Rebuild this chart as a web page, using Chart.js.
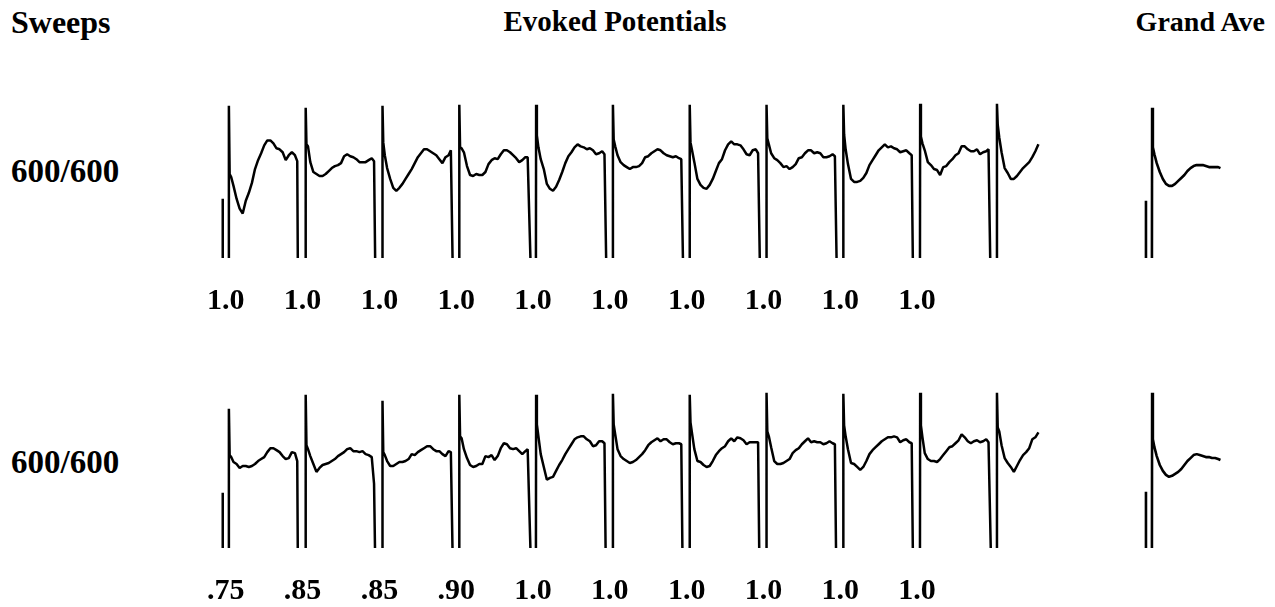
<!DOCTYPE html>
<html>
<head>
<meta charset="utf-8">
<title>Evoked Potentials</title>
<script src="https://cdn.jsdelivr.net/npm/chart.js@4.4.1/dist/chart.umd.min.js"></script>
<style>
  body { margin: 0; background: #fff; width: 1275px; height: 607px; overflow: hidden; position: relative;
         font-family: 'Liberation Serif', 'Times New Roman', serif; font-weight: bold; color: #000; }
  .lbl { position: absolute; line-height: 1; white-space: nowrap; }
  canvas { position: absolute; left: 0; }
</style>
</head>
<body>
<div class="lbl" style="left:11px;top:6px;font-size:32px">Sweeps</div>
<div class="lbl" style="left:615px;top:7px;font-size:29px;transform:translateX(-50%)">Evoked Potentials</div>
<div class="lbl" style="right:10px;top:8px;font-size:28px">Grand Ave</div>
<div class="lbl" style="left:11px;top:155px;font-size:33px">600/600</div>
<div class="lbl" style="left:11px;top:446px;font-size:33px">600/600</div>

<canvas id="rowTop" width="1275" height="254" style="top:90px"></canvas>
<canvas id="rowBottom" width="1275" height="254" style="top:380px"></canvas>

<script>
// sample times inside one epoch (ms after the stimulus)
const epochMs = [1, 3, 6, 10, 14, 18, 22, 26, 30, 34, 38, 42, 46, 50, 54, 58, 62, 66, 70, 74, 78, 82, 86, 89];
const EPOCH = 100;      // one sweep block on the time axis
const PRE_MS = -8;      // pre-stimulus line
const GRAND_AT = 1202;  // where the grand average is placed
const FLOOR = -120;     // below the visible range, so the baseline is cut off

// upper row
const topSweeps = [
  [5, 2, -7, -20, -30, -35, -22, -14, -4, 10, 19, 26, 34, 39, 39, 36, 31, 30, 27, 19, 24, 27, 24, 18],
  [35, 33, 17, 7, 5, 3, 3, 5, 8, 11, 13, 14, 16, 23, 25, 23, 22, 20, 17, 17, 17, 19, 21, 18],
  [37, 24, 11, 0, -9, -12, -9, -5, 0, 5, 10, 16, 22, 26, 30, 30, 28, 26, 24, 20, 16, 22, 24, 29],
  [32, 31, 27, 13, 4, 3, 5, 4, 4, 7, 15, 19, 21, 20, 25, 29, 29, 27, 24, 21, 17, 19, 22, 22],
  [44, 32, 20, 10, -5, -10, -12, -8, -1, 7, 16, 23, 27, 32, 35, 33, 32, 30, 31, 29, 25, 26, 28, 25],
  [40, 33, 24, 17, 14, 12, 10, 12, 12, 13, 16, 22, 23, 26, 28, 30, 29, 26, 24, 23, 22, 23, 21, 20],
  [37, 29, 17, 0, -6, -9, -10, -6, 0, 8, 16, 20, 29, 35, 38, 35, 35, 34, 30, 25, 24, 29, 30, 26],
  [41, 35, 26, 21, 19, 16, 12, 13, 10, 12, 15, 21, 22, 26, 29, 29, 26, 27, 26, 22, 22, 23, 25, 23],
  [45, 30, 15, 0, -3, -3, -2, 1, 6, 14, 19, 24, 29, 32, 35, 32, 33, 31, 30, 27, 28, 29, 26, 24],
  [43, 36, 29, 17, 14, 10, 9, 4, 12, 13, 17, 20, 24, 26, 33, 33, 30, 28, 28, 30, 25, 27, 28, 30],
  [55, 42, 27, 11, 6, 0, 0, 3, 7, 11, 14, 17, 22, 28, 35]
];
const topPeaks = [74, 72, 74, 75, 75, 75, 75, 75, 75, 76, 76];
const topDrops = [90, 91, 92, 94, 92, 92, 92, 92, 91, 92, null];
const topPre = -20;
const topLabels = ['1.0', '1.0', '1.0', '1.0', '1.0', '1.0', '1.0', '1.0', '1.0', '1.0'];
const grandTop = [32, 25, 16, 7, 0, -5, -7, -7, -5, -2, 1, 4, 8, 11, 13, 14, 14, 14, 13, 12, 12, 12, 12, 11];
const grandTopPeak = 72;
const grandTopPre = -22;

// lower row
const bottomSweeps = [
  [14, 12, 7, 5, 1, 3, 3, 2, 3, 5, 8, 10, 12, 17, 21, 21, 19, 17, 13, 10, 11, 17, 16, 8],
  [24, 20, 13, 5, -3, 1, 4, 5, 6, 8, 10, 13, 15, 17, 20, 21, 18, 18, 17, 18, 15, 14, 12, -15],
  [17, 14, 8, 3, 3, 5, 7, 7, 8, 10, 15, 14, 17, 19, 21, 23, 23, 20, 18, 18, 15, 13, 18, 17],
  [33, 31, 20, 11, 4, 2, 3, 5, 5, 13, 12, 14, 9, 13, 21, 26, 25, 21, 20, 21, 18, 15, 18, 20],
  [45, 33, 15, 2, -11, -9, -8, -2, 4, 9, 15, 20, 25, 30, 32, 33, 33, 30, 28, 23, 24, 28, 28, 26],
  [45, 35, 20, 13, 10, 8, 6, 7, 9, 12, 15, 19, 24, 27, 29, 31, 28, 30, 30, 27, 25, 26, 26, 25],
  [47, 36, 20, 8, 7, 4, 2, 3, 8, 14, 18, 21, 23, 28, 31, 28, 32, 31, 29, 25, 27, 27, 27, 27],
  [38, 33, 22, 8, 5, 5, 6, 8, 10, 16, 19, 21, 25, 28, 31, 27, 28, 27, 27, 25, 26, 28, 26, 25],
  [44, 33, 20, 6, 5, 2, -1, 2, 8, 15, 19, 22, 25, 28, 30, 32, 32, 33, 32, 27, 29, 30, 27, 26],
  [44, 32, 16, 10, 8, 8, 7, 10, 14, 18, 22, 23, 26, 29, 35, 32, 28, 26, 28, 29, 27, 28, 30, 27],
  [42, 38, 24, 11, 6, 2, -3, 3, 9, 14, 17, 21, 30, 32, 37]
];
const bottomPeaks = [61, 75, 69, 75, 75, 76, 75, 77, 76, 77, 77];
const bottomDrops = [90, 91, 92, 94, 91, 91, 91, 91, 91, 93, null];
const bottomPre = -24;
const bottomLabels = ['.75', '.85', '.85', '.90', '1.0', '1.0', '1.0', '1.0', '1.0', '1.0'];
const grandBottom = [30, 22, 13, 4, -2, -6, -8, -7, -5, -3, 0, 4, 8, 11, 14, 15, 14, 13, 12, 12, 11, 11, 10, 9];
const grandBottomPeak = 77;
const grandBottomPre = -23;

// turns sweeps into one continuous trace: pre line, spike, response, drop
function buildTrace(sweeps, peaks, drops, pre, offset) {
  const pts = [{x: offset + PRE_MS, y: pre}, {x: offset + PRE_MS, y: FLOOR}];
  sweeps.forEach((vals, k) => {
    const t0 = offset + k * EPOCH;
    pts.push({x: t0 - 0.3, y: FLOOR}, {x: t0, y: peaks[k]});
    vals.forEach((v, j) => pts.push({x: t0 + epochMs[j], y: v}));
    if (drops[k] != null) pts.push({x: t0 + drops[k], y: FLOOR});
  });
  return pts;
}

function makeRow(id, sweeps, peaks, drops, pre, labels, grand, gPeak, gPre) {
  const line = {borderColor: '#000', borderWidth: 2.5, pointRadius: 0, tension: 0, borderJoinStyle: 'bevel'};
  new Chart(document.getElementById(id), {
    type: 'line',
    data: {
      datasets: [
        Object.assign({data: buildTrace(sweeps, peaks, drops, pre, 0)}, line),
        Object.assign({data: buildTrace([grand], [gPeak], [null], gPre, GRAND_AT)}, line, {borderWidth: 2.6})
      ]
    },
    options: {
      responsive: false,
      animation: false,
      layout: {padding: 0},
      plugins: {legend: {display: false}, tooltip: {enabled: false}},
      scales: {
        x: {
          type: 'linear',
          min: -298,
          max: 1362,
          grid: {display: false, drawTicks: false, tickLength: 0},
          border: {display: false},
          afterBuildTicks: function (scale) {
            scale.ticks = labels.map((l, i) => ({value: i * EPOCH - 4}));
          },
          ticks: {
            autoSkip: false,
            maxRotation: 0,
            padding: 25,
            color: '#000',
            font: {family: 'Liberation Serif', size: 30, weight: 'bold'},
            callback: function (v, i) { return labels[i]; }
          }
        },
        y: {display: false, min: -80, max: 90}
      }
    }
  });
}

makeRow('rowTop', topSweeps, topPeaks, topDrops, topPre, topLabels, grandTop, grandTopPeak, grandTopPre);
makeRow('rowBottom', bottomSweeps, bottomPeaks, bottomDrops, bottomPre, bottomLabels, grandBottom, grandBottomPeak, grandBottomPre);
</script>
</body>
</html>
